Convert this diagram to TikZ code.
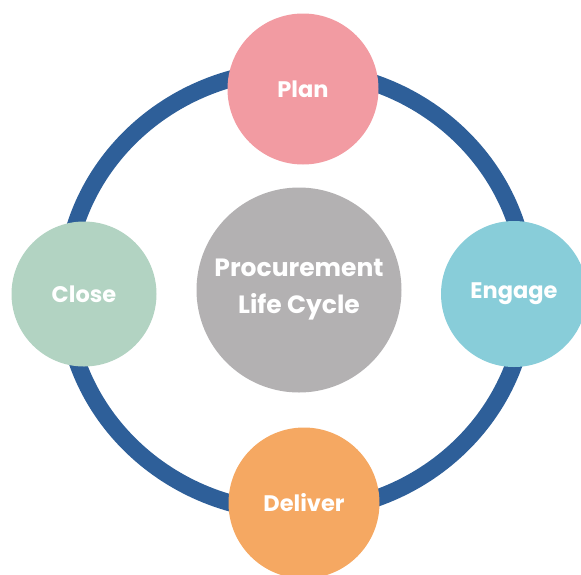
\documentclass[tikz,border=0pt]{standalone}
\usepackage{fontspec}
\setmainfont{Poppins}
\definecolor{ringblue}{HTML}{2E5F99}
\definecolor{planpink}{HTML}{F29BA2}
\definecolor{engageblue}{HTML}{88CDD9}
\definecolor{closegreen}{HTML}{B2D3C2}
\definecolor{deliverorange}{HTML}{F5A862}
\definecolor{hubgray}{HTML}{B3B1B2}
\tikzstyle{phase}=[circle,minimum size=148pt,inner sep=0pt,text=white,font=\fontsize{22.5}{26}\selectfont\bfseries]
\tikzstyle{hub}=[circle,fill=hubgray,minimum size=205pt,inner sep=0pt,text=white,align=center,font=\fontsize{25}{37}\selectfont\bfseries]

\begin{document}
\begin{tikzpicture}[x=1pt,y=-1pt]
    \useasboundingbox (0,0) rectangle (581,574);
    \coordinate (c) at (296,291);
    \draw[ringblue,line width=17pt] (c) ellipse [x radius=231,y radius=221];
    \node[hub] (lc) at (299,290) {Procurement\\Life Cycle};
    \node[phase,fill=planpink,minimum size=151pt] (plan) at (303,89) {Plan};
    \node[phase,fill=engageblue,minimum size=146pt] (engage) at (514,294) {Engage};
    \node[phase,fill=deliverorange,minimum size=151pt] (deliver) at (304,503) {Deliver};
    \node[phase,fill=closegreen,minimum size=145pt] (close) at (84,294) {Close};
\end{tikzpicture}
\end{document}
